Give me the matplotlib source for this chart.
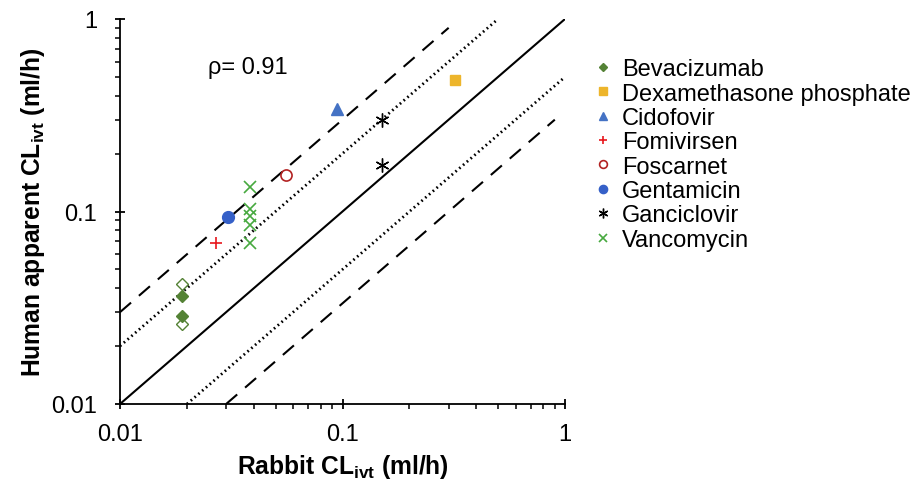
import matplotlib
matplotlib.use('Agg')
import matplotlib.pyplot as plt

plt.rcParams['font.family'] = 'Liberation Sans'
plt.rcParams['mathtext.fontset'] = 'custom'
plt.rcParams['mathtext.rm'] = 'Liberation Sans'
plt.rcParams['mathtext.bf'] = 'Liberation Sans:bold'

# data (rabbit CL, human CL)
drugs = ['Bevacizumab', 'Dexamethasone phosphate', 'Cidofovir', 'Fomivirsen',
         'Foscarnet', 'Gentamicin', 'Ganciclovir', 'Vancomycin']
rabbit = {
    'Bevacizumab': [0.019, 0.019],
    'Dexamethasone phosphate': [0.32],
    'Cidofovir': [0.094],
    'Fomivirsen': [0.027],
    'Foscarnet': [0.056],
    'Gentamicin': [0.0305],
    'Ganciclovir': [0.15, 0.15],
    'Vancomycin': [0.0385, 0.0385, 0.0385, 0.0385, 0.0385],
}
human = {
    'Bevacizumab': [0.0363, 0.0285],
    'Dexamethasone phosphate': [0.48],
    'Cidofovir': [0.34],
    'Fomivirsen': [0.069],
    'Foscarnet': [0.155],
    'Gentamicin': [0.0935],
    'Ganciclovir': [0.30, 0.175],
    'Vancomycin': [0.134, 0.103, 0.095, 0.085, 0.069],
}
# open diamonds (not in legend)
bev_open_x = [0.019, 0.019]
bev_open_y = [0.042, 0.026]

styles = {
    'Bevacizumab': dict(marker='D', color='#548235', ms=6, mfc='#548235'),
    'Dexamethasone phosphate': dict(marker='s', color='#EDB52B', ms=7.5, mfc='#EDB52B'),
    'Cidofovir': dict(marker='^', color='#4472C4', ms=8, mfc='#4472C4'),
    'Fomivirsen': dict(marker='+', color='#E8171D', ms=9, mew=1.2),
    'Foscarnet': dict(marker='o', color='#B22222', ms=8, mfc='none', mew=1.2),
    'Gentamicin': dict(marker='o', color='#3560C8', ms=8.5, mfc='#3560C8'),
    'Ganciclovir': dict(marker=(6, 2, 0), color='black', ms=10, mew=1.0),
    'Vancomycin': dict(marker='x', color='#47A93F', ms=8, mew=1.2),
}

fig = plt.figure(figsize=(9.19, 4.81), dpi=100)
ax = fig.add_axes([120 / 919, 76 / 481, 445 / 919, 385 / 481])

# reference lines
ax.plot([0.01, 1], [0.01, 1], color='black', lw=1.5)
ax.plot([0.01, 0.5], [0.02, 1], color='black', lw=2, ls=(0, (0.6, 1.2)))
ax.plot([0.02, 1], [0.01, 0.5], color='black', lw=2, ls=(0, (0.6, 1.2)))
ax.plot([0.01, 0.3], [0.03, 0.9], color='black', lw=1.5, ls=(0, (7, 5)))
ax.plot([0.03, 0.9], [0.01, 0.3], color='black', lw=1.5, ls=(0, (7, 5)))

ax.plot(bev_open_x, bev_open_y, ls='none', marker='D', ms=6, color='#548235',
        mfc='none', mew=1)

for d in drugs:
    ax.plot(rabbit[d], human[d], ls='none', label=d, **styles[d])

ax.set_xscale('log')
ax.set_yscale('log')
ax.set_xlim(0.01, 1)
ax.set_ylim(0.01, 1)
ax.set_xticks([0.01, 0.1, 1])
ax.set_xticklabels(['0.01', '0.1', '1'])
ax.set_yticks([0.01, 0.1, 1])
ax.set_yticklabels(['0.01', '0.1', '1'])
ax.spines['top'].set_visible(False)
ax.spines['right'].set_visible(False)
ax.spines['left'].set_linewidth(1.3)
ax.spines['bottom'].set_linewidth(1.3)
ax.tick_params(which='major', direction='inout', length=7, width=1.3,
               labelsize=17)
ax.tick_params(axis='y', which='major', pad=13)
ax.tick_params(axis='x', which='major', pad=10)
ax.tick_params(which='minor', direction='out', length=3.5, width=1.1)

ax.set_xlabel(r'Rabbit CL$_{\mathbf{ivt}}$ (ml/h)', fontsize=17.7,
              fontweight='bold', labelpad=5)
ax.set_ylabel(r'Human apparent CL$_{\mathbf{ivt}}$ (ml/h)', fontsize=17.7,
              fontweight='bold', labelpad=3)

ax.text(0.198, 0.875, 'ρ= 0.91', transform=ax.transAxes, fontsize=17,
        va='center')

leg = fig.legend(loc='upper left', bbox_to_anchor=(570 / 919, 1 - 38 / 481),
                 frameon=False, fontsize=17, markerscale=0.7,
                 handlelength=1.0, handletextpad=0.3, labelspacing=0.1)

fig.savefig('out.png', dpi=100)
